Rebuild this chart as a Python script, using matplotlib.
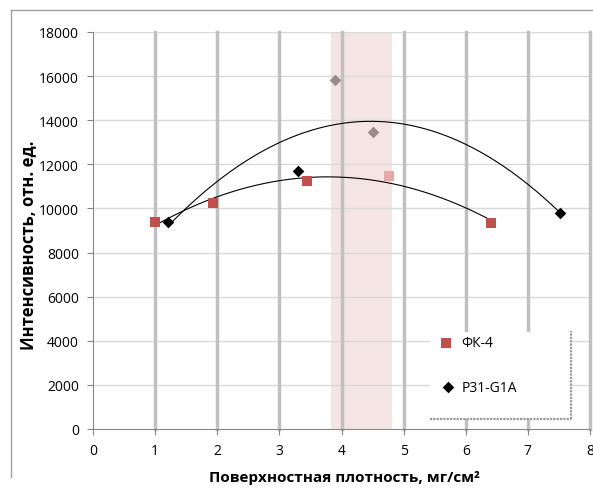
import numpy as np
import matplotlib.pyplot as plt
from matplotlib.lines import Line2D

plt.rcParams['font.family'] = ['Open Sans', 'DejaVu Sans']

# ФК-4 (red squares)
fk4_x = [1.0, 1.93, 3.45, 6.41]
fk4_y = [9400, 10230, 11260, 9340]
fk4_out_x = [4.77]
fk4_out_y = [11470]

# P31-G1A (black diamonds)
p31_x = [1.2, 3.3, 7.51]
p31_y = [9370, 11680, 9780]
p31_out_x = [3.9, 4.5]
p31_out_y = [15820, 13450]

band = (3.83, 4.82)
x_ticks = [0, 1, 2, 3, 4, 5, 6, 7, 8]
y_ticks = list(range(0, 18001, 2000))

fig = plt.figure(figsize=(5.93, 4.89), dpi=100)
ax = fig.add_axes([93/593, 59/489, 497/593, 397/489])

# figure frame (left + top)
fig.add_artist(Line2D([11/593, 11/593], [11/489, 478/489], color='#a0a0a0', lw=1, transform=fig.transFigure))
fig.add_artist(Line2D([11/593, 1], [478/489, 478/489], color='#a0a0a0', lw=1, transform=fig.transFigure))

ax.set_xlim(0, 8)
ax.set_ylim(0, 18000)
ax.axvspan(*band, color='#f5e4e4', zorder=0, lw=0)

for yt in y_ticks[1:]:
    ax.axhline(yt, color='#d9d9d9', lw=1, zorder=1)
for xt in x_ticks[1:]:
    ax.axvline(xt, color='#c0c0c0', lw=2.5, zorder=1, clip_on=False)

# trend lines (2nd order polynomial)
all_fk_x = np.array(fk4_x + fk4_out_x)
all_fk_y = np.array(fk4_y + fk4_out_y)
c1 = np.polyfit(all_fk_x, all_fk_y, 2)
xx1 = np.linspace(all_fk_x.min(), all_fk_x.max(), 200)
ax.plot(xx1, np.polyval(c1, xx1), color='black', lw=0.8, zorder=3)

all_p_x = np.array(p31_x + p31_out_x)
all_p_y = np.array(p31_y + p31_out_y)
c2 = np.polyfit(all_p_x, all_p_y, 2)
xx2 = np.linspace(all_p_x.min(), all_p_x.max(), 200)
ax.plot(xx2, np.polyval(c2, xx2), color='black', lw=0.8, zorder=3)

ax.scatter(fk4_x, fk4_y, marker='s', s=45, color='#c0504d', zorder=4, lw=0)
ax.scatter(fk4_out_x, fk4_out_y, marker='s', s=45, color='#e6a8a7', zorder=4, lw=0)
ax.scatter(p31_x, p31_y, marker='D', s=35, color='black', zorder=4, lw=0)
ax.scatter(p31_out_x, p31_out_y, marker='D', s=35, color='#9b8b8b', zorder=4, lw=0)

# legend box
lx0, lx1 = 5.43, 7.7
ax.fill_between([lx0, lx1], 470, 4400, color='white', zorder=2, lw=0)
ax.plot([lx1, lx1], [470, 4450], color='#999999', lw=1.6, ls=(0, (1, 0.5)), zorder=2)
ax.plot([lx0, lx1], [470, 470], color='#999999', lw=1.6, ls=(0, (1, 0.5)), zorder=2)
ax.scatter([5.69], [3900], marker='s', s=45, color='#c0504d', zorder=4, lw=0)
ax.text(5.93, 3900, 'ФК-4', fontsize=10, va='center', zorder=5)
ax.scatter([5.72], [1900], marker='D', s=35, color='black', zorder=4, lw=0)
ax.text(5.93, 1900, 'P31-G1A', fontsize=10, va='center', zorder=5)

ax.set_xticks(x_ticks)
ax.set_yticks(y_ticks)
ax.tick_params(labelsize=10, color='#868686', length=4, direction='out', pad=6)
for s in ['top', 'right']:
    ax.spines[s].set_visible(False)
for s in ['left', 'bottom']:
    ax.spines[s].set_color('#868686')

ax.set_xlabel('Поверхностная плотность, мг/см²', fontsize=11, fontweight='bold')
ax.set_ylabel('Интенсивность, отн. ед.', fontsize=12, fontweight='bold')
ax.xaxis.set_label_coords(0.505, -0.103)
ax.yaxis.set_label_coords(-0.113, 0.466)

fig.savefig('out.png', dpi=100)
